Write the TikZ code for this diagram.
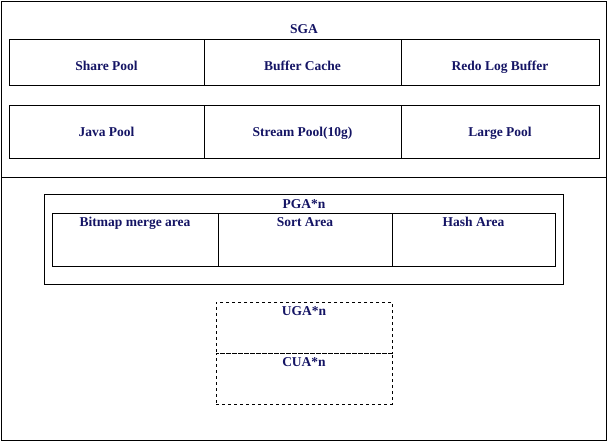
\documentclass[tikz,border=0pt]{standalone}
\usepackage{fontspec}
\setmainfont{Liberation Serif}
\usetikzlibrary{positioning}
\definecolor{labelblue}{RGB}{20,20,100}
\begin{document}
\begin{tikzpicture}[
			x=1pt, y=-1pt,
			box/.style={rectangle, draw, line width=0.6pt, inner sep=0pt},
			topbox/.style={box, minimum height=53pt},
			caption/.style={font=\bfseries\fontsize{13.5}{15}\selectfont, text=labelblue, inner sep=0pt, anchor=base},
			session/.style={rectangle, draw, dashed, inner sep=0pt, minimum width=176pt, minimum height=51pt}
			]
			\useasboundingbox (0,0) rectangle (609,442);
			
			% outer frame and split
			\node[box, minimum width=605pt, minimum height=439pt] (frame) at (303.5,220.5) {};
			\draw[line width=0.6pt] (1,177) coordinate (sl) -- (606,177) coordinate (sr);
			
			% SGA
			\node[caption] (sga) at (304,33.5) {SGA};
			\node[box, minimum width=195pt, minimum height=46pt] (share) at (106.5,62) {};
			\node[box, minimum width=197pt, minimum height=46pt] (buffer) at (302.5,62) {};
			\node[box, minimum width=198pt, minimum height=46pt] (redo) at (500,62) {};
			\node[caption] at ([yshift=-8.5pt]share.center) {Share Pool};
			\node[caption] at ([yshift=-8.5pt]buffer.center) {Buffer Cache};
			\node[caption] at ([yshift=-8.5pt]redo.center) {Redo Log Buffer};
			\node[box, minimum width=195pt, minimum height=53pt] (java) at (106.5,131.5) {};
			\node[box, minimum width=197pt, minimum height=53pt] (stream) at (302.5,131.5) {};
			\node[box, minimum width=198pt, minimum height=53pt] (large) at (500,131.5) {};
			\node[caption] at ([yshift=-4.5pt]java.center) {Java Pool};
			\node[caption] at ([yshift=-4.5pt]stream.center) {Stream Pool(10g)};
			\node[caption] at ([yshift=-4.5pt]large.center) {Large Pool};
			
			% PGA
			\node[box, minimum width=519pt, minimum height=90pt] (pga) at (303.5,239) {};
			\node[caption] (pgalabel) at (304,208.5) {PGA*n};
			\node[topbox, minimum width=166pt] (bitmap) at (135,239.5) {};
			\node[topbox, minimum width=174pt] (sort) at (305,239.5) {};
			\node[topbox, minimum width=163pt] (hash) at (473.5,239.5) {};
			\node[caption] at ([yshift=-14pt]bitmap.north) {Bitmap merge area};
			\node[caption] at ([yshift=-14pt]sort.north) {Sort Area};
			\node[caption] at ([yshift=-14pt]hash.north) {Hash Area};
			
			% UGA / CUA
			\node[session] (uga) at (304,327.5) {};
			\node[session] (cua) at (304,378.5) {};
			\node[caption] at ([yshift=-14pt]uga.north) {UGA*n};
			\node[caption] at ([yshift=-14pt]cua.north) {CUA*n};
			
		\end{tikzpicture}
\end{document}
